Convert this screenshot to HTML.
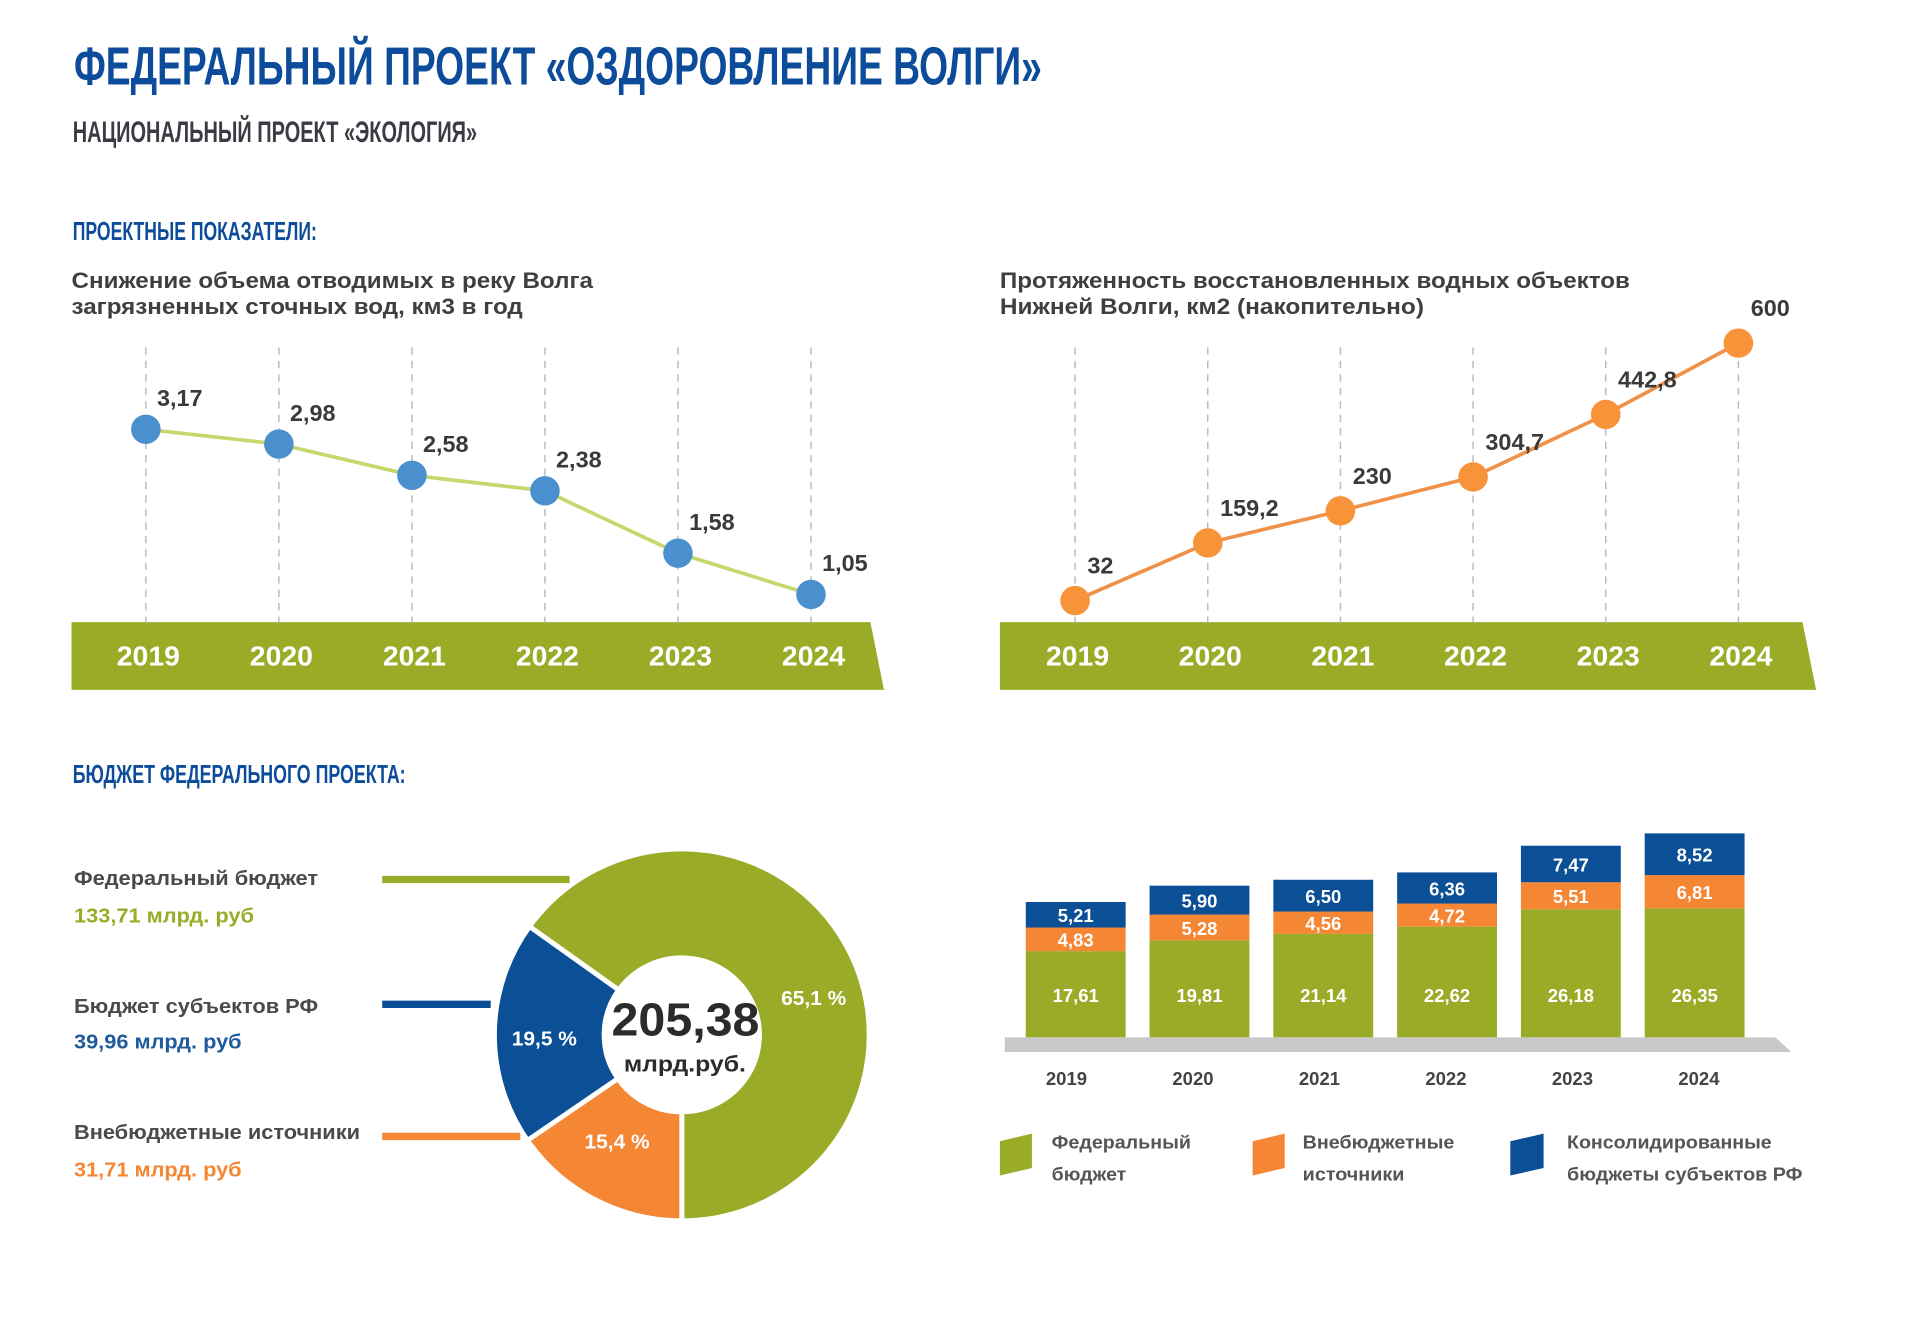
<!DOCTYPE html>
<html><head><meta charset="utf-8"><style>
html,body{margin:0;padding:0;background:#fff;}
svg{display:block;}
text{font-family:"Liberation Sans","Noto Sans CJK SC",sans-serif;font-weight:bold;}
.cond{font-family:"Liberation Sans Narrow","Liberation Sans",sans-serif;}
</style></head><body>
<svg id="root" width="1911" height="1326" viewBox="0 0 1550 1084" preserveAspectRatio="none" xmlns="http://www.w3.org/2000/svg">
<text class="cond" x="60" y="69" font-size="44" fill="#0d4c9a" textLength="785" lengthAdjust="spacingAndGlyphs">ФЕДЕРАЛЬНЫЙ ПРОЕКТ «ОЗДОРОВЛЕНИЕ ВОЛГИ»</text>
<text class="cond" x="59" y="116" font-size="24" fill="#3a3c44" textLength="328" lengthAdjust="spacingAndGlyphs">НАЦИОНАЛЬНЫЙ ПРОЕКТ «ЭКОЛОГИЯ»</text>
<text class="cond" x="59" y="196" font-size="21" fill="#0d4c9a" textLength="198" lengthAdjust="spacingAndGlyphs">ПРОЕКТНЫЕ ПОКАЗАТЕЛИ:</text>
<text x="58" y="235.5" font-size="18" fill="#3f3f3f" textLength="423" lengthAdjust="spacingAndGlyphs">Снижение объема отводимых в реку Волга</text>
<text x="58" y="256.7" font-size="18" fill="#3f3f3f" textLength="366" lengthAdjust="spacingAndGlyphs">загрязненных сточных вод, км3 в год</text>
<text x="811" y="235.5" font-size="18" fill="#3f3f3f" textLength="511" lengthAdjust="spacingAndGlyphs">Протяженность восстановленных водных объектов</text>
<text x="811" y="256.7" font-size="18" fill="#3f3f3f" textLength="344" lengthAdjust="spacingAndGlyphs">Нижней Волги, км2  (накопительно)</text>
<text class="cond" x="59" y="640" font-size="21" fill="#0d4c9a" textLength="270" lengthAdjust="spacingAndGlyphs">БЮДЖЕТ ФЕДЕРАЛЬНОГО ПРОЕКТА:</text>

<polygon points="58,508.6 706,508.6 717,564 58,564" fill="#9aab27"/>
<polygon points="811,508.6 1462,508.6 1473,564 811,564" fill="#9aab27"/>
<g id="lineL"></g><g id="lineR"></g>

<text x="60" y="723.6" font-size="17" fill="#4a4a4a" textLength="198" lengthAdjust="spacingAndGlyphs">Федеральный бюджет</text>
<text x="60" y="754" font-size="17" fill="#9aab27" textLength="146" lengthAdjust="spacingAndGlyphs">133,71 млрд. руб</text>
<line x1="310" y1="719" x2="462" y2="719" stroke="#9aab27" stroke-width="6"/>
<text x="60" y="828" font-size="17" fill="#4a4a4a" textLength="198" lengthAdjust="spacingAndGlyphs">Бюджет субъектов РФ</text>
<text x="60" y="857" font-size="17" fill="#1e5a9c" textLength="136" lengthAdjust="spacingAndGlyphs">39,96 млрд. руб</text>
<line x1="310" y1="821" x2="398" y2="821" stroke="#0b4f96" stroke-width="6"/>
<text x="60" y="931" font-size="17" fill="#4a4a4a" textLength="232" lengthAdjust="spacingAndGlyphs">Внебюджетные источники</text>
<text x="60" y="961.6" font-size="17" fill="#f58634" textLength="136" lengthAdjust="spacingAndGlyphs">31,71 млрд. руб</text>
<line x1="310" y1="929" x2="422" y2="929" stroke="#f58634" stroke-width="6"/>
<g id="donut"></g>
<text x="556" y="846.6" font-size="38" fill="#2b2b2b" text-anchor="middle" textLength="120" lengthAdjust="spacingAndGlyphs">205,38</text>
<text x="555.5" y="876" font-size="18" fill="#2b2b2b" text-anchor="middle" textLength="99" lengthAdjust="spacingAndGlyphs">млрд.руб.</text>

<polygon points="815,848 1440,848 1453,860 815,860" fill="#c8c8c8"/>
<g id="bars"></g>

<polygon points="811,933 837,926.7 837,954.8 811,961" fill="#9aab27"/>
<text font-size="15" fill="#555"><tspan x="853" y="938.8" textLength="113" lengthAdjust="spacingAndGlyphs">Федеральный</tspan><tspan x="853" y="965" textLength="60.5" lengthAdjust="spacingAndGlyphs">бюджет</tspan></text>
<polygon points="1016,933 1042,926.7 1042,954.8 1016,961" fill="#f58634"/>
<text font-size="15" fill="#555"><tspan x="1056.6" y="938.8" textLength="123" lengthAdjust="spacingAndGlyphs">Внебюджетные</tspan><tspan x="1056.6" y="965" textLength="82.5" lengthAdjust="spacingAndGlyphs">источники</tspan></text>
<polygon points="1225,933 1252,926.7 1252,954.8 1225,961" fill="#0b4f96"/>
<text font-size="15" fill="#555"><tspan x="1271" y="938.8" textLength="166" lengthAdjust="spacingAndGlyphs">Консолидированные</tspan><tspan x="1271" y="965" textLength="191" lengthAdjust="spacingAndGlyphs">бюджеты субъектов РФ</tspan></text>
</svg>
<script>
const years = ["2019","2020","2021","2022","2023","2024"];
const wasteValues = [3.17, 2.98, 2.58, 2.38, 1.58, 1.05];
const wasteLabels = ["3,17","2,98","2,58","2,38","1,58","1,05"];
const restoredValues = [32, 159.2, 230, 304.7, 442.8, 600];
const restoredLabels = ["32","159,2","230","304,7","442,8","600"];
const donutShares = [65.1, 15.4, 19.5];
const donutLabels = ["65,1 %","15,4 %","19,5 %"];
const federalValues = [17.61, 19.81, 21.14, 22.62, 26.18, 26.35];
const extraValues = [4.83, 5.28, 4.56, 4.72, 5.51, 6.81];
const regionalValues = [5.21, 5.90, 6.50, 6.36, 7.47, 8.52];
const federalLabels = ["17,61","19,81","21,14","22,62","26,18","26,35"];
const extraLabels = ["4,83","5,28","4,56","4,72","5,51","6,81"];
const regionalLabels = ["5,21","5,90","6,50","6,36","7,47","8,52"];

const NS = "http://www.w3.org/2000/svg";
function mk(tag, attrs, parent){const e=document.createElementNS(NS,tag);for(const k in attrs)e.setAttribute(k,attrs[k]);parent.appendChild(e);return e;}

function xLeft(i){return 118.3 + i*107.9;}
function yLeft(v){return 407 + 63.7*(2.29 - v);}
function xRight(i){return 872 + i*107.6;}
function yRight(v){return 491 - 0.3706*(v - 32);}

function lineChart(g, xf, yf, vals, labels, lineColor, dotColor, side, dx, dy){
  years.forEach((y,i)=>{
    const l=mk("line",{x1:xf(i),x2:xf(i),y1:284,y2:509,stroke:"#bbb","stroke-width":1.2,"stroke-dasharray":"6,5"},g);
    
    
    const t=mk("text",{x:xf(i)+2,y:544,"font-size":23,fill:"#fff","text-anchor":"middle"},g);
    t.textContent=y;
    
    
  });
  const pts=vals.map((v,i)=>xf(i)+","+yf(v)).join(" ");
  const pl=mk("polyline",{points:pts,fill:"none",stroke:lineColor,"stroke-width":3},g);
  
  
  vals.forEach((v,i)=>{
    const c=mk("circle",{cx:xf(i),cy:yf(v),r:12,fill:dotColor},g);
    
    
    const t=mk("text",{x:xf(i)+dx,y:yf(v)+dy,"font-size":19,fill:"#3a3a3a"},g);
    t.textContent=labels[i];
    
    
  });
}
lineChart(document.getElementById("lineL"), xLeft, yLeft, wasteValues, wasteLabels, "#c5d86d", "#4a90cf", "left", 9, -19);
lineChart(document.getElementById("lineR"), xRight, yRight, restoredValues, restoredLabels, "#f0914a", "#f7943a", "right", 10, -22);

const dg=document.getElementById("donut");
const cx=553, cy=846, R=152, r0=63;
const dColors=["#9aab27","#f58634","#0b4f96"];
const dNames=["donut-federal","donut-extra","donut-regional"];
const total=donutShares.reduce((a,b)=>a+b,0);
let a0=180-donutShares[0]/total*360;
function pt(rad,deg){const a=deg*Math.PI/180;return [cx+rad*Math.sin(a), cy-rad*Math.cos(a)];}
donutShares.forEach((s,i)=>{
  const span=s/total*360, a1=a0+span;
  const p1=pt(R,a0),p2=pt(R,a1),p3=pt(r0,a1),p4=pt(r0,a0);
  const large=span>180?1:0;
  const d=`M${p1} A${R},${R} 0 ${large} 1 ${p2} L${p3} A${r0},${r0} 0 ${large} 0 ${p4} Z`;
  const p=mk("path",{d:d,fill:dColors[i],stroke:"#fff","stroke-width":4},dg);
  
  
  a0=a1;
});
const dLabelPos=[[660,821.5],[500.5,939],[441.5,854.6]];
donutLabels.forEach((l,i)=>{
  const t=mk("text",{x:dLabelPos[i][0],y:dLabelPos[i][1],"font-size":17,fill:"#fff","text-anchor":"middle"},dg);
  t.textContent=l;
  
  
});

const bg=document.getElementById("bars");
const base=848, k=4.0, bw=81;
function xBar(i){return 832 + i*100.4;}
function h(v){return v*k;}
years.forEach((y,i)=>{
  const x=xBar(i), cxb=x+bw/2;
  let top=base;
  const segs=[[federalValues[i],"#9aab27",federalLabels[i],"federal"],[extraValues[i],"#f58634",extraLabels[i],"extra"],[regionalValues[i],"#0b4f96",regionalLabels[i],"regional"]];
  segs.forEach((s,j)=>{
    const hh=h(s[0]); top-=hh;
    const rc=mk("rect",{x:x,y:top,width:bw,height:hh,fill:s[1]},bg);
    
    
    const ty = j===0 ? 819 : top+hh/2+6;
    const t=mk("text",{x:cxb,y:ty,"font-size":15,fill:"#fff","text-anchor":"middle"},bg);
    t.textContent=s[2];
    
    
  });
  const yl=mk("text",{x:865+i*102.6,y:887,"font-size":15,fill:"#444","text-anchor":"middle"},bg);
  yl.textContent=y;
  
  
});
</script>
</body></html>
